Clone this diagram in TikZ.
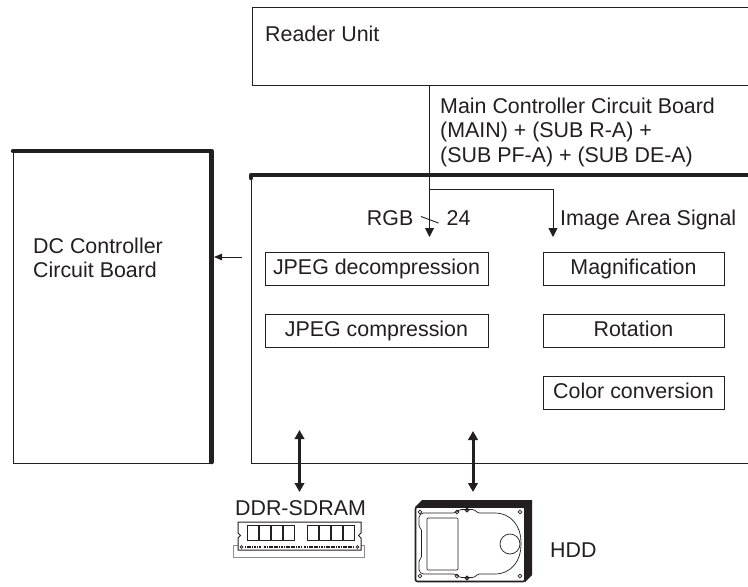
\documentclass[tikz,border=0pt]{standalone}
\usepackage{fontspec}
\setmainfont{Liberation Sans}
\usetikzlibrary{arrows.meta}
\definecolor{ink}{RGB}{35,31,32}
\definecolor{socket}{RGB}{140,140,140}

\begin{document}
\begin{tikzpicture}[x=1pt,y=-1pt,
  txt/.style={text=ink,font=\fontsize{21.4}{24.5}\selectfont,inner sep=0pt},
  frame/.style={draw=ink,line width=1pt,inner sep=0pt},
  fnbox/.style={draw=ink,line width=1pt,inner sep=0pt,minimum height=33pt,
    text height=15pt,text depth=3pt,text=ink,font=\fontsize{21.4}{24.5}\selectfont},
  heavy/.style={draw=ink,line width=4.5pt,line cap=round,line join=round},
  sig/.style={draw=ink,line width=1pt,-{Triangle[width=9pt,length=9pt]}},
  back/.style={draw=ink,line width=1pt,-{Triangle[width=6.5pt,length=8pt]}},
  bus/.style={draw=ink,line width=3pt,
    {Triangle[width=9.5pt,length=9pt]}-{Triangle[width=9.5pt,length=9pt]}},
  fine/.style={draw=ink,line width=0.7pt},
]
\clip (0,0) rectangle (748,587);
\fill[white] (0,0) rectangle (748,587);

% Reader unit (runs off to the right)
\node[frame,anchor=north west,minimum width=520pt,minimum height=78pt] (reader) at (252,7) {};
\node[txt,anchor=base west] (readertxt) at (265,41) {Reader Unit};

% DC controller board
\node[frame,anchor=north west,minimum width=197.5pt,minimum height=312pt] (dc) at (13,151) {};
\draw[heavy] (dc.north west) -- (dc.north east) -- ([yshift=2pt]dc.south east);
\node[txt,anchor=north west,align=left] (dctxt) at (33,237.7) {DC Controller\\Circuit Board};

% Main controller board (runs off to the right)
\node[frame,anchor=north west,minimum width=520pt,minimum height=288pt] (main) at (251,175) {};
\draw[heavy] (main.north west) ++(0,3) -- (main.north west) -- (main.north east);
\node[txt,anchor=north west,align=left] (maintxt) at (440,97.7)
  {Main Controller Circuit Board\\(MAIN) + (SUB R-A) +\\(SUB PF-A) + (SUB DE-A)};

% Function blocks
\node[fnbox,minimum width=223pt] (jpegd) at (376.5,268.5) {JPEG decompression};
\node[fnbox,minimum width=223pt] (jpegc) at (376.5,330.5) {JPEG compression};
\node[fnbox,minimum width=181pt] (mag)   at (633.5,268.5) {Magnification};
\node[fnbox,minimum width=181pt] (rot)   at (633.5,330.5) {Rotation};
\node[fnbox,minimum width=181pt] (ccv)   at (633.5,392.5) {Color conversion};

% Signals from the reader unit
\coordinate (rgbtip) at (429.5,237);
\coordinate (areatip) at (553,237);
\coordinate (split) at (429.5,189);
\draw[sig] (reader.south -| rgbtip) -- (rgbtip);
\draw[sig] (split) -| (areatip);
\draw[draw=ink,line width=0.9pt] (421,216.5) -- (438.5,223);
\node[txt,anchor=base east] (rgb) at (413.5,225) {RGB};
\node[txt,anchor=base west] (bits) at (446.5,225) {24};
\node[txt,anchor=base west] (area) at (560,225) {Image Area Signal};

% Output to the DC controller
\coordinate (dcfrom) at (242,257);
\draw[back] (dcfrom) -- ([xshift=2.5pt]dcfrom -| dc.east);

% Memory and storage buses
\coordinate (ddrbus) at (299.5,430);
\coordinate (ddrend) at (299.5,492);
\coordinate (hddbus) at (473,431);
\coordinate (hddend) at (473,492);
\draw[bus] (ddrbus) -- (ddrend);
\draw[bus] (hddbus) -- (hddend);

% DDR-SDRAM module
\node[txt,anchor=base] (ddrlbl) at (300.5,515) {DDR-SDRAM};
\draw[draw=socket,line width=1pt,fill=white] (233.5,545) rectangle (364.5,557.5);
\filldraw[fill=white,draw=ink,line width=1pt]
  (238,522) -- (361,522) -- (361,533) -- (358.5,535.5) -- (361,538) -- (361,550)
  -- (238,550) -- (238,538) -- (240.5,535.5) -- (238,533) -- cycle;
\foreach \cx in {247,259,271,283,307,319,331,343}
  \draw[fine,line width=0.9pt] (\cx,525) rectangle (\cx+11,540);
\draw[ink,line width=1.6pt,dash pattern=on 1.2pt off 0.5pt]
  (245,547) -- (261,547) (263.5,547) -- (301,547) (303.5,547) -- (354,547);
\draw[fine] (241.5,547) circle (1.3pt) (357.5,547) circle (1.3pt);

% Hard disk drive
\fill[ink] (415,507) -- (422,500) -- (532,500) -- (532,575) -- (525,582) -- (525,507) -- cycle;
\filldraw[fill=white,draw=ink,line width=1.6pt,rounded corners=2pt] (415.5,507) rectangle (525,581.5);
\draw[fine,rounded corners=1.5pt]
  (422,513) -- (455,513) -- (460,509.5) -- (474,509.5) -- (478,513) -- (493,513)
  .. controls (512,513) and (521,527) .. (521,543.5)
  .. controls (521,560) and (512,574) .. (493,574)
  -- (478,574) -- (474,577.5) -- (460,577.5) -- (455,574) -- (422,574)
  -- (419,571) -- (419,560) -- (421.5,558) -- (421.5,529) -- (419,527) -- (419,516) -- cycle;
\draw[fine,rounded corners=1pt] (427,518) rectangle (458,570);
\draw[fine] (510,544) circle (10pt);
\foreach \sx/\sy in {420/512,457/512,520/512,420/576,457/576,520/576}
  \draw[fine] (\sx,\sy) circle (1.8pt);
\foreach \sx/\sy in {467/510,467/578}
  \draw[ink,line width=1.2pt] (\sx,\sy) circle (1.8pt);
\node[txt,anchor=base west] (hddlbl) at (550,557) {HDD};
\end{tikzpicture}
\end{document}
